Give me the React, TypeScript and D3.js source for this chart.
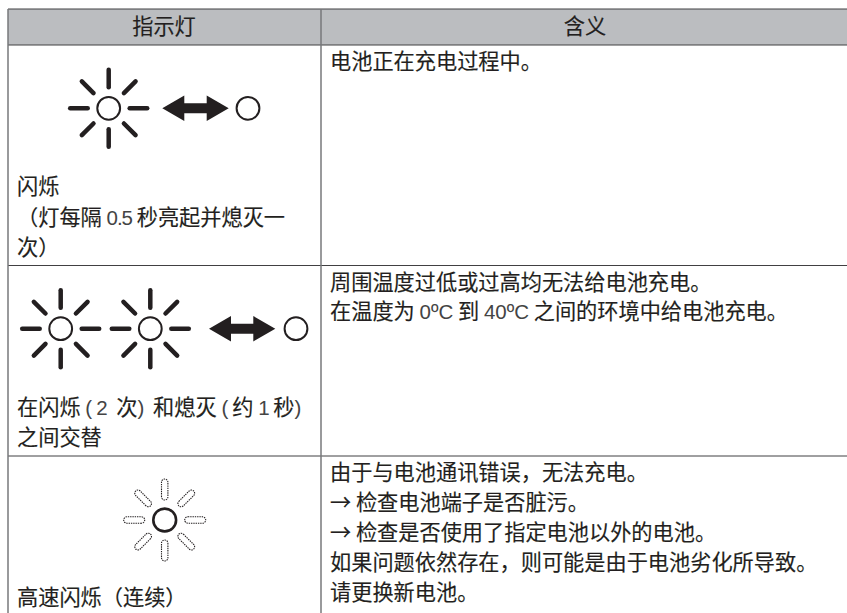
import React from "react";
import * as d3 from "d3";

const headers = ["指示灯", "含义"];
const rowLines = [265.5, 456];
const leftText = [
  { y: 187, t: "闪烁" },
  { y: 217.5, t: "（灯每隔 0.5 秒亮起并熄灭一" },
  { y: 248, t: "次）" },
  { y: 407.5, t: "在闪烁 (2 次) 和熄灭 (约 1 秒)" },
  { y: 438, t: "之间交替" },
  { y: 598, t: "高速闪烁（连续）" },
];
const rightText = [
  { y: 62, t: "电池正在充电过程中。" },
  { y: 283, t: "周围温度过低或过高均无法给电池充电。" },
  { y: 312, t: "在温度为 0ºC 到 40ºC 之间的环境中给电池充电。" },
  { y: 473, t: "由于与电池通讯错误，无法充电。" },
  { y: 503, t: "→ 检查电池端子是否脏污。" },
  { y: 533, t: "→ 检查是否使用了指定电池以外的电池。" },
  { y: 563, t: "如果问题依然存在，则可能是由于电池劣化所导致。" },
  { y: 593, t: "请更换新电池。" },
];
const suns = [
  { x: 108.7, y: 108.3 },
  { x: 60.7, y: 328.7 },
  { x: 150.3, y: 328.7 },
];
const dashedSuns = [{ x: 164.7, y: 520 }];
const arrows = [
  { x0: 162.3, x1: 228.7, y: 108.3 },
  { x0: 209, x1: 275.3, y: 328.7 },
];
const offLamps = [
  { x: 248, y: 108.3 },
  { x: 296, y: 328.7 },
];

const ink = "#231f20";
const angles = d3.range(8).map((i) => (i * Math.PI) / 4);

function spacing(p: string) {
  if (/[()]/.test(p)) return 4;
  return p.includes("C") ? 0 : -1;
}

function Mixed({ x, y, t, anchor }: { x: number; y: number; t: string; anchor?: string }) {
  const parts = t.split(/([0-9.()ºC]+)/).filter((p) => p.length);
  return (
    <text x={x} y={y + 7.2} textAnchor={anchor as any} fontSize={21.2} fill={ink}
      stroke={ink} strokeWidth={0.15}
      style={{ fontFamily: '"Noto Sans CJK SC"' }} xmlSpace="preserve">
      {parts.map((p, i) =>
        /^[0-9.()ºC]+$/.test(p) ? (
          <tspan key={i} style={{ fontFamily: '"Liberation Sans"' }} fontSize={20.5}
            letterSpacing={spacing(p)} stroke="none" fill="#444">{p}</tspan>
        ) : (
          <tspan key={i}>{p}</tspan>
        )
      )}
    </text>
  );
}

function Sun({ x, y }: { x: number; y: number }) {
  return (
    <g>
      <circle cx={x} cy={y} r={11.4} fill="none" stroke={ink} strokeWidth={2} />
      {angles.map((a, i) => {
        const r0 = i % 2 ? 21.5 : 21;
        const r1 = i % 2 ? 38 : 38.5;
        return (
          <line key={i} x1={x + r0 * Math.cos(a)} y1={y + r0 * Math.sin(a)} x2={x + r1 * Math.cos(a)} y2={y + r1 * Math.sin(a)}
            stroke={ink} strokeWidth={4.5} strokeLinecap="round" />
        );
      })}
    </g>
  );
}

function DashedSun({ x, y }: { x: number; y: number }) {
  return (
    <g>
      <circle cx={x} cy={y} r={11.4} fill="none" stroke={ink} strokeWidth={2.6} />
      {angles.map((a, i) => (
        <rect key={i} x={20} y={-3.2} width={21} height={6.4} rx={3.2} fill="none" stroke={ink} strokeWidth={1.1} strokeDasharray="1.4 0.9"
          transform={`translate(${x},${y}) rotate(${(a * 180) / Math.PI})`} />
      ))}
    </g>
  );
}

const arrowLine = d3.line<[number, number]>();
function Arrow({ x0, x1, y }: { x0: number; x1: number; y: number }) {
  const head = 22, hh = 12.7, sh = 5;
  const pts: [number, number][] = [
    [x0, y], [x0 + head, y - hh], [x0 + head, y - sh], [x1 - head, y - sh], [x1 - head, y - hh],
    [x1, y], [x1 - head, y + hh], [x1 - head, y + sh], [x0 + head, y + sh], [x0 + head, y + hh],
  ];
  return <path d={arrowLine(pts) + "Z"} fill={ink} />;
}

export default function App() {
  const W = 847, H = 613;
  return (
    <svg width={W} height={H} style={{ position: "absolute", left: 0, top: 0, background: "#fff" }}>
      <rect x={8} y={9} width={W} height={36} fill="#bbbdc0" />
      <line x1={8} x2={W} y1={9} y2={9} stroke="#414042" strokeWidth={1} />
      <line x1={8} x2={W} y1={45} y2={45} stroke="#414042" strokeWidth={1} />
      {rowLines.map((y) => <line key={y} x1={8} x2={W} y1={y} y2={y} stroke="#414042" strokeWidth={1} />)}
      <line x1={8} x2={8} y1={9} y2={H} stroke="#77787b" strokeWidth={1.5} />
      <line x1={321} x2={321} y1={9} y2={H} stroke="#77787b" strokeWidth={1.5} />
      <Mixed x={164} y={27} t={headers[0]} anchor="middle" />
      <Mixed x={585} y={27} t={headers[1]} anchor="middle" />
      {leftText.map((d) => <Mixed key={d.t} x={17} y={d.y} t={d.t} />)}
      {rightText.map((d) => <Mixed key={d.t} x={330} y={d.y} t={d.t} />)}
      {suns.map((d, i) => <Sun key={i} {...d} />)}
      {dashedSuns.map((d, i) => <DashedSun key={i} {...d} />)}
      {arrows.map((d, i) => <Arrow key={i} {...d} />)}
      {offLamps.map((d, i) => <circle key={i} cx={d.x} cy={d.y} r={11.4} fill="none" stroke={ink} strokeWidth={2} />)}
    </svg>
  );
}
